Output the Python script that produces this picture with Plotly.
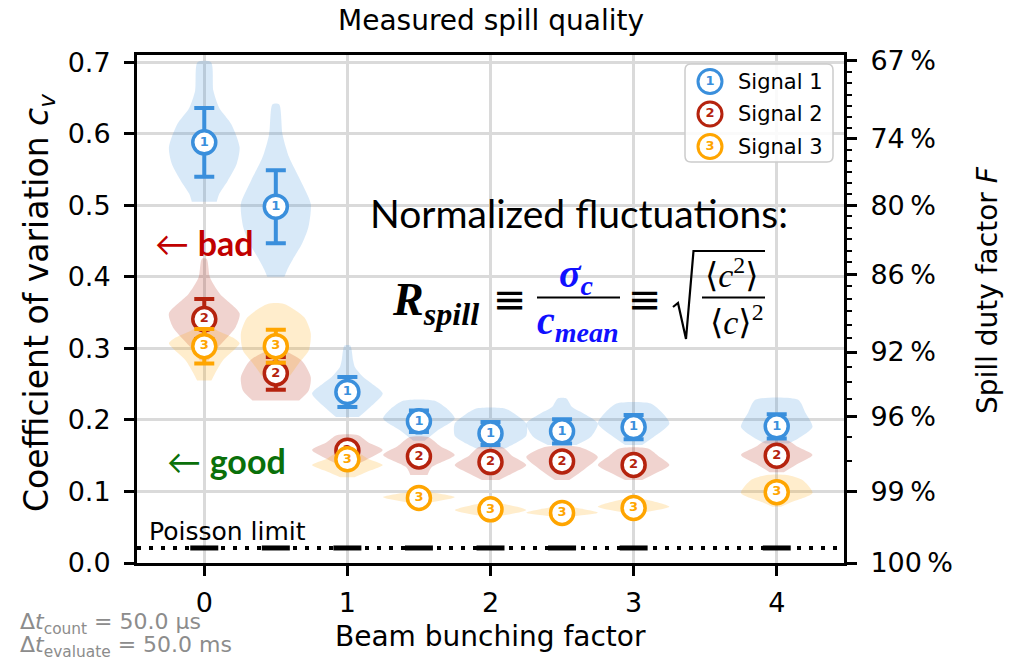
import math
import plotly.graph_objects as go

# ---------------- data ----------------
POSITIONS = [0, 0.5, 1, 1.5, 2, 2.5, 3, 4]
X_TICKS = [0, 1, 2, 3, 4]
Y_TICKS = [0.0, 0.1, 0.2, 0.3, 0.4, 0.5, 0.6, 0.7]
F_MAJOR = [67, 74, 80, 86, 92, 96, 99, 100]          # duty factor ticks, %
F_MINOR = list(range(67, 101))

SIGNAL_NAMES = ["Signal 1", "Signal 2", "Signal 3"]
SIGNAL_LABELS = ["1", "2", "3"]

MEAN_S1 = [0.588, 0.498, 0.239, 0.198, 0.181, 0.184, 0.190, 0.191]
ERR_S1 = [0.048, 0.051, 0.021, 0.015, 0.016, 0.017, 0.017, 0.017]
MEAN_S2 = [0.341, 0.265, 0.157, 0.149, 0.141, 0.142, 0.137, 0.150]
ERR_S2 = [0.028, 0.023, 0.008, 0.008, 0.008, 0.008, 0.008, 0.008]
MEAN_S3 = [0.303, 0.303, 0.145, 0.091, 0.075, 0.070, 0.077, 0.099]
ERR_S3 = [0.024, 0.023, 0.006, 0.005, 0.005, 0.005, 0.005, 0.005]
POISSON = [0.021, 0.021, 0.021, 0.021, 0.021, 0.021, 0.021, 0.021]
POISSON_LEVEL = 0.021

# violin density profiles: levels (cv) and half widths (x units), one per position
VIOLIN_Y_S1 = [
    [0.505, 0.516, 0.534, 0.558, 0.581, 0.613, 0.636, 0.660, 0.700],
    [0.400, 0.410, 0.425, 0.445, 0.469, 0.502, 0.534, 0.567, 0.599, 0.641],
    [0.204, 0.218, 0.237, 0.251, 0.260, 0.274, 0.283, 0.304],
    [0.171, 0.185, 0.202, 0.215, 0.227],
    [0.160, 0.167, 0.178, 0.195, 0.207, 0.216],
    [0.165, 0.176, 0.195, 0.208, 0.218, 0.230],
    [0.165, 0.176, 0.195, 0.210, 0.223],
    [0.167, 0.174, 0.190, 0.210, 0.228],
]
VIOLIN_W_S1 = [
    [0.087, 0.105, 0.163, 0.227, 0.247, 0.190, 0.105, 0.064, 0.047],
    [0.060, 0.080, 0.120, 0.180, 0.227, 0.244, 0.174, 0.093, 0.047, 0.023],
    [0.080, 0.160, 0.247, 0.170, 0.110, 0.052, 0.040, 0.020],
    [0.040, 0.128, 0.250, 0.200, 0.105],
    [0.100, 0.170, 0.250, 0.250, 0.180, 0.100],
    [0.100, 0.200, 0.250, 0.160, 0.070, 0.030],
    [0.060, 0.140, 0.250, 0.200, 0.120],
    [0.080, 0.150, 0.250, 0.200, 0.150],
]
VIOLIN_Y_S2 = [
    [0.283, 0.297, 0.311, 0.330, 0.349, 0.376, 0.399, 0.425],
    [0.227, 0.241, 0.260, 0.283, 0.297],
    [0.139, 0.146, 0.158, 0.168, 0.1785],
    [0.123, 0.134, 0.151, 0.163, 0.176],
    [0.116, 0.125, 0.137, 0.150, 0.162],
    [0.116, 0.130, 0.148, 0.162],
    [0.116, 0.125, 0.137, 0.150, 0.160],
    [0.127, 0.139, 0.151, 0.162, 0.171],
]
VIOLIN_W_S2 = [
    [0.030, 0.075, 0.140, 0.220, 0.247, 0.110, 0.040, 0.017],
    [0.163, 0.230, 0.244, 0.180, 0.050],
    [0.080, 0.150, 0.247, 0.150, 0.075],
    [0.060, 0.090, 0.250, 0.150, 0.065],
    [0.060, 0.150, 0.250, 0.150, 0.080],
    [0.050, 0.150, 0.250, 0.120],
    [0.060, 0.150, 0.250, 0.170, 0.100],
    [0.050, 0.150, 0.250, 0.150, 0.080],
]
VIOLIN_Y_S3 = [
    [0.255, 0.265, 0.283, 0.300, 0.307, 0.315, 0.325, 0.332],
    [0.262, 0.279, 0.297, 0.321, 0.343, 0.362],
    [0.120, 0.127, 0.137, 0.145, 0.153],
    [0.084, 0.092, 0.0995],
    [0.065, 0.074, 0.084],
    [0.065, 0.0703, 0.0785],
    [0.070, 0.0785, 0.090],
    [0.0785, 0.085, 0.098, 0.116, 0.123],
]
VIOLIN_W_S3 = [
    [0.050, 0.075, 0.130, 0.220, 0.247, 0.200, 0.090, 0.040],
    [0.100, 0.160, 0.230, 0.244, 0.200, 0.058],
    [0.050, 0.130, 0.247, 0.150, 0.080],
    [0.050, 0.250, 0.050],
    [0.050, 0.250, 0.050],
    [0.050, 0.250, 0.050],
    [0.040, 0.250, 0.050],
    [0.030, 0.100, 0.250, 0.180, 0.070],
]

MEANS = [MEAN_S1, MEAN_S2, MEAN_S3]
ERRS = [ERR_S1, ERR_S2, ERR_S3]
VYS = [VIOLIN_Y_S1, VIOLIN_Y_S2, VIOLIN_Y_S3]
VWS = [VIOLIN_W_S1, VIOLIN_W_S2, VIOLIN_W_S3]

# ---------------- style ----------------
COLORS = ["#3a8fdc", "#b5230e", "#ffa500"]
FILLS = ["rgba(58,143,220,0.2)", "rgba(181,35,14,0.2)", "rgba(255,165,0,0.2)"]
FONT = "DejaVu Sans"
X_RANGE = [-0.47, 4.47]
Y_RANGE = [0.0, 0.71]
W, H = 1023, 661
L, R, T, B = 137, 844, 55, 563


def px(x):
    return (x - L) / (R - L)


def py(y):
    return (B - y) / (B - T)


def dx(x):  # pixel -> data x
    return X_RANGE[0] + px(x) * (X_RANGE[1] - X_RANGE[0])


def dy(y):  # pixel -> data y
    return Y_RANGE[0] + py(y) * (Y_RANGE[1] - Y_RANGE[0])


fig = go.Figure()

# violins
for s in range(3):
    for i, p in enumerate(POSITIONS):
        ys, ws = VYS[s][i], VWS[s][i]
        xs = [p + w for w in ws] + [p - w for w in reversed(ws)]
        yy = list(ys) + list(reversed(ys))
        fig.add_trace(go.Scatter(
            x=xs, y=yy, mode="lines", fill="toself", fillcolor=FILLS[s],
            line=dict(width=0, shape="spline", smoothing=0.7),
            hoverinfo="skip", showlegend=False))

# markers with error bars
for s in range(3):
    fig.add_trace(go.Scatter(
        x=POSITIONS, y=MEANS[s], mode="markers+text",
        text=["<b>%s</b>" % SIGNAL_LABELS[s]] * len(POSITIONS),
        textposition="middle center",
        textfont=dict(size=13, color=COLORS[s], family=FONT),
        marker=dict(size=23, color="white", line=dict(color=COLORS[s], width=3.5)),
        error_y=dict(type="data", array=ERRS[s], color=COLORS[s], thickness=4, width=10),
        name=SIGNAL_NAMES[s], showlegend=False))

# Poisson limit marks at each position
fig.add_trace(go.Scatter(
    x=POSITIONS, y=POISSON, mode="markers",
    marker=dict(symbol="line-ew", size=20, line=dict(color="black", width=5)),
    showlegend=False, hoverinfo="skip"))

# dummy trace to realise the right axis
fig.add_trace(go.Scatter(x=[None], y=[None], yaxis="y2", showlegend=False, hoverinfo="skip"))

# manual legend on an overlay (paper-like) subplot
LEG_ROWS = [81.5, 114.0, 146.5]
fig.add_trace(go.Scatter(
    x=[px(710)] * 3, y=[py(v) for v in LEG_ROWS], xaxis="x2", yaxis="y3",
    mode="markers+text", text=["<b>%s</b>" % t for t in SIGNAL_LABELS],
    textposition="middle center",
    textfont=dict(size=13, color=COLORS, family=FONT),
    marker=dict(size=24, color="white", line=dict(color=COLORS, width=3)),
    showlegend=False, hoverinfo="skip"))

# rounded legend box (in main data coordinates, between grid and traces)
x0, x1, y0, y1, rr = 685, 833, 64, 162, 6
path = ("M {a},{b} L {c},{b} Q {d},{b} {d},{e} L {d},{f} Q {d},{g} {c},{g} "
        "L {a},{g} Q {h},{g} {h},{f} L {h},{e} Q {h},{b} {a},{b} Z").format(
    a=dx(x0 + rr), b=dy(y0), c=dx(x1 - rr), d=dx(x1), e=dy(y0 + rr),
    f=dy(y1 - rr), g=dy(y1), h=dx(x0))
shapes = [dict(type="path", path=path, xref="x", yref="y", layer="between",
               fillcolor="rgba(255,255,255,0.85)", line=dict(color="#cccccc", width=1.5))]

# Poisson dotted line
shapes.append(dict(type="line", xref="x domain", yref="y", x0=0, x1=1,
                   y0=POISSON_LEVEL, y1=POISSON_LEVEL,
                   line=dict(color="black", width=4, dash="4px,8px")))

# formula lines
shapes.append(dict(type="line", xref="paper", yref="paper", x0=px(537), x1=px(620),
                   y0=py(297.5), y1=py(297.5), line=dict(color="black", width=2.2)))
shapes.append(dict(type="line", xref="paper", yref="paper", x0=px(702), x1=px(765),
                   y0=py(297.5), y1=py(297.5), line=dict(color="black", width=2.2)))
sq = "M {},{} L {},{} L {},{} L {},{} L {},{}".format(
    px(673), py(307), px(678), py(303), px(686), py(339), px(693.5), py(251), px(765), py(251))
shapes.append(dict(type="path", path=sq, xref="paper", yref="paper",
                   line=dict(color="black", width=2.2)))

ann = []


def add_text(text, x, y, size, color="black", family=FONT, xanchor="center",
             yanchor="middle", angle=0):
    ann.append(dict(text=text, x=px(x), y=py(y), xref="paper", yref="paper",
                    showarrow=False, xanchor=xanchor, yanchor=yanchor, textangle=angle,
                    font=dict(size=size, color=color, family=family)))


add_text("Measured spill quality", 490.5, 21, 28)
add_text("Beam bunching factor", 490.5, 636, 28)
add_text("Coefficient of variation <i>c</i><sub><i>v</i></sub>", 38, 303, 33, angle=-90)
add_text("Spill duty factor <i>F</i>", 987, 290, 28, angle=-90)
for i, t in enumerate(SIGNAL_NAMES):
    add_text(t, 736, LEG_ROWS[i], 21, xanchor="left")
add_text("Poisson limit", 147, 531, 25, xanchor="left")
add_text("← <b>bad</b>", 153, 242, 34, color="#c00000", family="Lato, DejaVu Sans", xanchor="left")
add_text("← <b>good</b>", 165, 460, 34, color="#0a700a", family="Lato, DejaVu Sans", xanchor="left")
add_text("Δ<i>t</i><sub>count</sub> = 50.0 µs", 18, 623, 22, color="#8c8c8c", xanchor="left")
add_text("Δ<i>t</i><sub>evaluate</sub> = 50.0 ms", 18, 646, 22, color="#8c8c8c", xanchor="left")
add_text("Normalized fluctuations:", 579, 213, 39, family="Lato, DejaVu Sans")
SERIF = "Liberation Serif, DejaVu Serif"
add_text("<b><i>R</i></b><sub><b><i>spill</i></b></sub>", 390, 303, 46, family=SERIF, xanchor="left")
add_text("≡", 510, 299, 40)
add_text("≡", 645, 299, 40)
add_text("<b><i>σ</i></b><sub><b><i>c</i></b></sub>", 576, 276, 40, color="#1010ff", family=SERIF)
add_text("<b><i>c</i></b><sub><b><i>mean</i></b></sub>", 578, 323, 40, color="#1010ff", family=SERIF)
add_text("⟨<i>c</i><sup>2</sup>⟩", 732, 273, 34, family=SERIF)
add_text("⟨<i>c</i>⟩<sup>2</sup>", 737, 320, 34, family=SERIF)

# right axis ticks: duty factor F = 1/(1+cv^2)  ->  cv = sqrt(1/F - 1)
f_major_pos = [math.sqrt(100.0 / f - 1.0) for f in F_MAJOR]
f_minor_pos = [math.sqrt(100.0 / f - 1.0) for f in F_MINOR]

axis_common = dict(showline=True, linecolor="black", linewidth=3, ticks="outside",
                   ticklen=10, tickwidth=3, tickcolor="black", zeroline=False,
                   tickfont=dict(size=27, family=FONT, color="black"))

fig.update_layout(
    width=W, height=H, margin=dict(l=L, r=W - R, t=T, b=H - B),
    paper_bgcolor="white", plot_bgcolor="white", showlegend=False,
    xaxis=dict(range=X_RANGE, tickmode="array", tickvals=X_TICKS,
               ticktext=[str(v) for v in X_TICKS], mirror=True,
               showgrid=True, gridcolor="#dadada", gridwidth=2.5,
               ticklabelstandoff=4, **axis_common),
    yaxis=dict(range=Y_RANGE, tickmode="array", tickvals=Y_TICKS,
               ticktext=["%.1f" % v for v in Y_TICKS], mirror=True,
               showgrid=True, gridcolor="#dadada", gridwidth=2.5,
               ticklabelstandoff=8, **axis_common),
    yaxis2=dict(range=Y_RANGE, overlaying="y", side="right", anchor="x",
                tickmode="array", tickvals=f_major_pos,
                ticktext=["%d\u2009%%" % f for f in F_MAJOR], showgrid=False,
                ticklabelstandoff=8,
                minor=dict(tickmode="array", tickvals=f_minor_pos, ticks="outside",
                           ticklen=5, tickwidth=2, tickcolor="black", showgrid=False),
                **axis_common),
    xaxis2=dict(range=[0, 1], overlaying="x", visible=False, fixedrange=True),
    yaxis3=dict(range=[0, 1], overlaying="y", visible=False, fixedrange=True),
    shapes=shapes, annotations=ann,
)

fig.write_html("out.html")
